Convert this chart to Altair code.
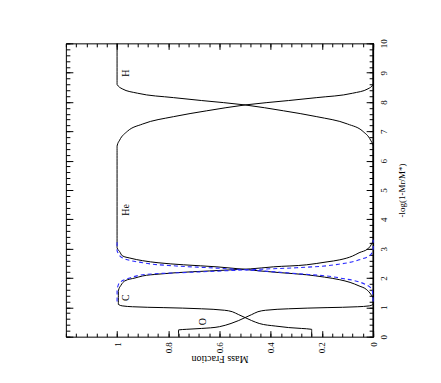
import altair as alt
import pandas as pd

# ---- data (q = -log(1-Mr/M*), mf = mass fraction) ----
q_O = [0, 0.23, 0.25, 0.28, 0.34, 0.45, 0.55, 0.65, 0.75, 0.85, 0.90, 0.95, 0.99, 1.02, 1.05, 1.10, 10]
mf_O = [0.76, 0.76, 0.73, 0.67, 0.60, 0.555, 0.525, 0.50, 0.475, 0.45, 0.42, 0.33, 0.18, 0.06, 0.015, 0.0, 0.0]

q_C = [0, 0.25, 0.28, 0.31, 0.36, 0.45, 0.55, 0.65, 0.75, 0.85, 0.90, 0.95, 0.99, 1.02, 1.05, 1.10,
       1.56, 1.75, 1.90, 2.00, 2.07, 2.13, 2.18, 2.24, 2.28, 2.31, 2.38, 2.45, 2.55, 2.62, 2.75, 2.86,
       3.00, 3.13, 3.30, 10]
mf_C = [0.24, 0.24, 0.28, 0.33, 0.38, 0.445, 0.475, 0.50, 0.525, 0.55, 0.58, 0.67, 0.82, 0.94, 0.98, 0.995,
        0.995, 0.985, 0.97, 0.93, 0.90, 0.84, 0.77, 0.64, 0.55, 0.48, 0.39, 0.26, 0.18, 0.13, 0.08, 0.055,
        0.02, 0.008, 0.0, 0.0]

q_He = [0, 1.30, 1.43, 1.60, 1.73, 1.85, 1.94, 2.03, 2.11, 2.18, 2.24, 2.31, 2.38, 2.45, 2.52, 2.59,
        2.68, 2.76, 2.90, 3.03, 6.5, 6.7, 7.0, 7.25, 7.5, 7.7, 7.9, 8.05, 8.15, 8.3, 8.45, 8.6, 10]
mf_He = [0, 0, 0.008, 0.025, 0.055, 0.09, 0.13, 0.19, 0.26, 0.36, 0.44, 0.52, 0.61, 0.74, 0.84, 0.90,
         0.95, 0.98, 0.99, 1.0, 1.0, 0.99, 0.96, 0.90, 0.78, 0.65, 0.50, 0.33, 0.22, 0.08, 0.02, 0.0, 0.0]

q_H = [0, 6.5, 6.7, 7.0, 7.25, 7.5, 7.7, 7.9, 8.05, 8.15, 8.3, 8.45, 8.6, 10]
mf_H = [0, 0, 0.01, 0.04, 0.10, 0.22, 0.35, 0.50, 0.67, 0.78, 0.92, 0.98, 1.0, 1.0]

q_He_alt = [1.2, 1.6, 1.77, 2.0, 2.15, 2.28, 2.35, 2.41, 2.52, 2.69, 2.93, 3.3]
mf_He_alt = [0, 0.004, 0.027, 0.13, 0.30, 0.50, 0.64, 0.77, 0.90, 0.98, 1.0, 1.0]

q_C_alt = [1.2, 1.6, 1.84, 2.0, 2.11, 2.2, 2.26, 2.3, 2.35, 2.45, 2.62, 2.79, 3.0, 3.3]
mf_C_alt = [1.0, 1.0, 0.99, 0.95, 0.90, 0.70, 0.54, 0.44, 0.30, 0.15, 0.055, 0.01, 0.0, 0.0]

label_names = ["H", "He", "C", "O"]
label_mf = [0.965, 0.965, 0.965, 0.664]
label_q = [8.98, 4.32, 1.33, 0.51]

x_major = [0, 0.2, 0.4, 0.6, 0.8, 1.0]
x_minor = [round(i * 0.04, 2) for i in range(31)]
y_major = list(range(0, 11))
y_minor = [round(i * 0.2, 1) for i in range(51)]


def build(series):
    rows = []
    for name, qs, xs in series:
        for q, x in zip(qs, xs):
            rows.append({"series": name, "q": q, "mf": x})
    return pd.DataFrame(rows)


solid = build([("O", q_O, mf_O), ("C", q_C, mf_C), ("He", q_He, mf_He), ("H", q_H, mf_H)])
dashed = build([("He2", q_He_alt, mf_He_alt), ("C2", q_C_alt, mf_C_alt)])
labels = pd.DataFrame({"name": label_names, "mf": label_mf, "q": label_q})

W, H = 308, 294
FONT = "Liberation Serif"
xscale = alt.Scale(domain=[0, 1.2], reverse=True, nice=False, zero=False)
yscale = alt.Scale(domain=[0, 10], nice=False, zero=False)


def tick_axis(orient, offset, values, size):
    return alt.Axis(orient=orient, offset=offset, values=values, labels=False, domain=False,
                    grid=False, title=None, ticks=True, tickSize=size, tickColor="black",
                    tickWidth=1)


x_label_axis = alt.Axis(
    orient="bottom", values=x_major, ticks=False, domain=False, grid=False,
    labelAngle=270, labelAlign="right", labelBaseline="middle", labelPadding=5,
    labelFont=FONT, labelFontSize=9, labelColor="black",
    labelExpr="datum.value == 0 ? '0' : datum.value == 1 ? '1' : format(datum.value, '.1f')",
    title="Mass Fraction", titleAngle=180, titleFont=FONT, titleFontSize=10,
    titleFontWeight="normal", titleColor="black", titleY=22, titleX=W / 2,
    titleBaseline="middle", titleAlign="center")

y_label_axis = alt.Axis(
    orient="right", values=y_major, ticks=False, domain=False, grid=False,
    labelAngle=270, labelAlign="center", labelBaseline="top", labelPadding=6,
    labelFont=FONT, labelFontSize=9, labelColor="black", format="d",
    title="-log(1-Mr/M*)", titleAngle=270, titleFont=FONT, titleFontSize=9,
    titleFontWeight="normal", titleColor="black", titleX=28, titleY=H / 2,
    titleBaseline="middle", titleAlign="center")

lines = alt.Chart(solid).mark_line(color="black", strokeWidth=1, interpolate="monotone",
                                   orient="horizontal").encode(
    x=alt.X("mf:Q", scale=xscale, axis=x_label_axis),
    y=alt.Y("q:Q", scale=yscale, axis=y_label_axis),
    detail="series:N",
    order="q:Q",
)

dash = alt.Chart(dashed).mark_line(color="#2a2aff", strokeWidth=1.1, strokeDash=[4, 3],
                                   interpolate="monotone", orient="horizontal").encode(
    x=alt.X("mf:Q", scale=xscale, axis=tick_axis("top", -H, x_major, 6)),
    y=alt.Y("q:Q", scale=yscale, axis=tick_axis("left", -W, y_major, 7)),
    detail="series:N",
    order="q:Q",
)

text = alt.Chart(labels).mark_text(font=FONT, fontSize=10, angle=270, color="black",
                                   align="center", baseline="middle").encode(
    x=alt.X("mf:Q", scale=xscale, axis=tick_axis("top", -H, x_minor, 3.5)),
    y=alt.Y("q:Q", scale=yscale, axis=tick_axis("left", -W, y_minor, 4)),
    text="name:N",
)

ghost1 = alt.Chart(labels).mark_point(opacity=0).encode(
    x=alt.X("mf:Q", scale=xscale, axis=tick_axis("bottom", -H, x_major, 6)),
    y=alt.Y("q:Q", scale=yscale, axis=tick_axis("right", -W, y_major, 7)),
)

ghost2 = alt.Chart(labels).mark_point(opacity=0).encode(
    x=alt.X("mf:Q", scale=xscale, axis=tick_axis("bottom", -H, x_minor, 3.5)),
    y=alt.Y("q:Q", scale=yscale, axis=tick_axis("right", -W, y_minor, 4)),
)

chart = alt.layer(lines, dash, text, ghost1, ghost2).resolve_axis(
    x="independent", y="independent"
).properties(
    width=W, height=H,
    autosize=alt.AutoSizeParams(type="none"),
    padding={"left": 58, "top": 35, "right": 60, "bottom": 38},
    background="white",
).configure_view(stroke="black", strokeWidth=1)

chart.save("out.html", embed_options={"renderer": "svg", "actions": False})
